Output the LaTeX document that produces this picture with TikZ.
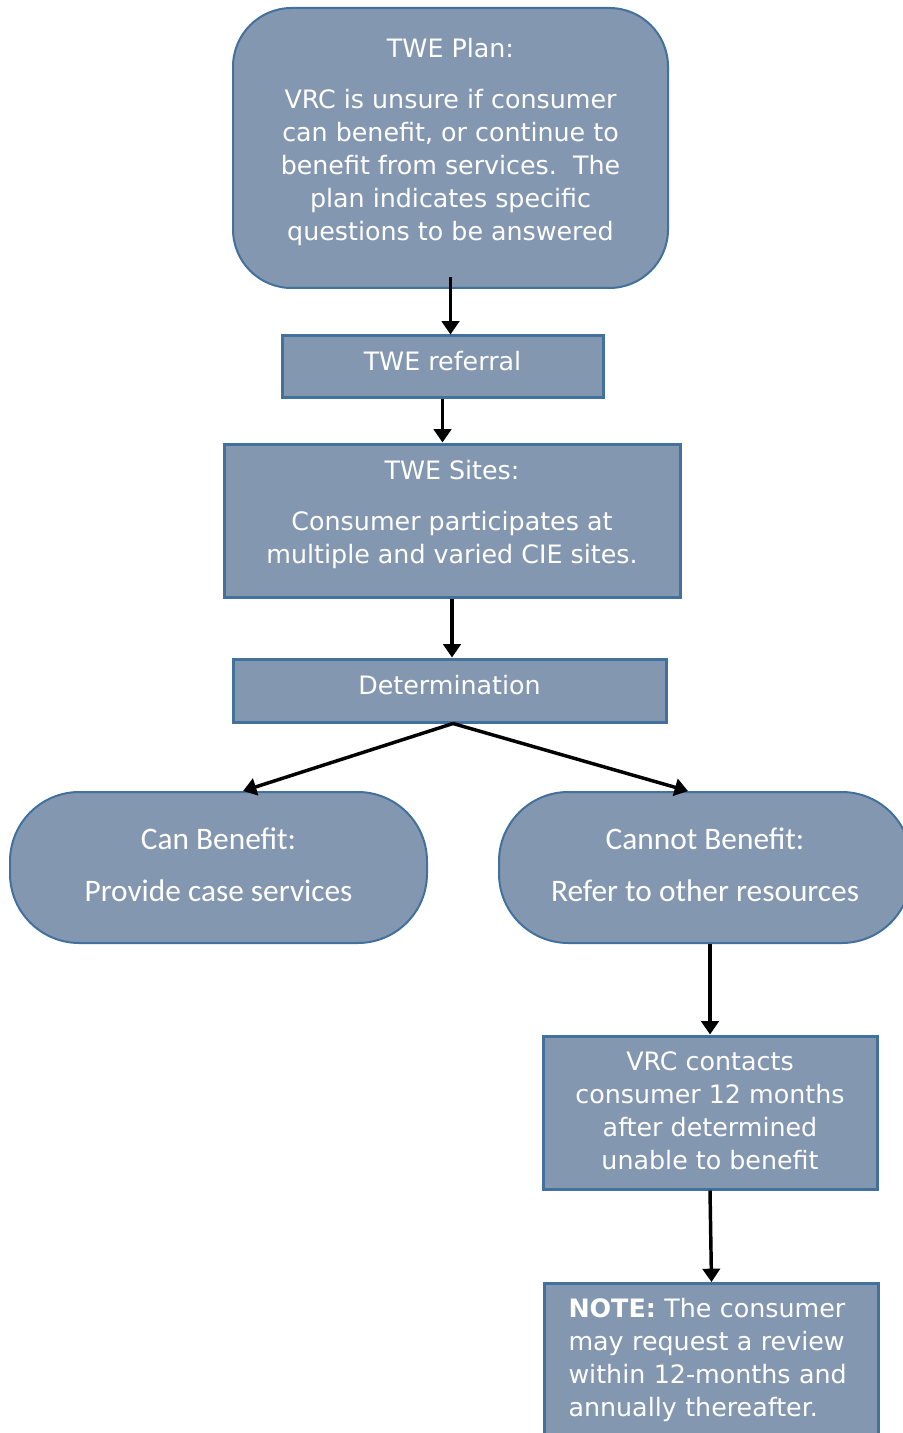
\documentclass[tikz,border=0pt]{standalone}
\usepackage{fontspec}
\setmainfont{DejaVu Sans}
\newfontfamily\calib{Carlito}
\usetikzlibrary{arrows.meta,calc}
\definecolor{boxfill}{HTML}{8497B0}
\definecolor{boxline}{HTML}{41719C}
\newcommand{\liftA}{\\[-12pt]\mbox{}}
\newcommand{\liftB}{\\[-17pt]\mbox{}}
\newcommand{\liftC}{\\[-34.5pt]\mbox{}}
\newcommand{\liftD}{\\[-21.5pt]\mbox{}}
\begin{document}
\begin{tikzpicture}[x=0.75pt,y=-0.75pt,
  box/.style={draw=boxline, fill=boxfill, line width=2.25pt, text=white,
    font=\fontsize{19}{24.75}\selectfont, align=center, inner sep=0pt},
  rbox/.style={box, line width=1.5pt},
  capbox/.style={rbox, font=\calib\fontsize{23.5}{39}\selectfont, rounded corners=52pt,
    minimum width=#1, minimum height=113.25pt},
  arr/.style={line width=2.6pt, -{Triangle[length=10pt,width=13pt]}}]
\useasboundingbox (0,0) rectangle (902,1433);

\node[rbox, rounded corners=44pt, minimum width=326.25pt, minimum height=210pt] (plan) at (450.5,148)
  {TWE Plan:\\[14pt]VRC is unsure if consumer\\can benefit, or continue to\\benefit from services.\ \ The\\plan indicates specific\\questions to be answered\liftA};
\node[box, minimum width=240.75pt, minimum height=45.75pt] (ref) at (442.5,366.5) {TWE referral\liftB};
\node[box, minimum width=342pt, minimum height=114.75pt] (sites) at (452,520.5)
  {TWE Sites:\\[14pt]Consumer participates at\\multiple and varied CIE sites.\liftA};
\node[box, minimum width=324.75pt, minimum height=47.25pt] (det) at (449.5,690.5) {Determination\liftB};
\node[capbox=312.75pt] (can) at (218.5,867.5) {Can Benefit:\\Provide case services\liftC};
\node[capbox=309pt] (cannot) at (705,867.5) {Cannot Benefit:\\Refer to other resources\liftC};
\node[box, minimum width=250.5pt, minimum height=114.75pt] (vrc) at (710,1112.5)
  {VRC contacts\\consumer 12 months\\after determined\\unable to benefit\liftD};
\node[box, anchor=north west, align=left, text width=214.5pt, inner xsep=18pt, inner ysep=11pt] (note) at (543,1282)
  {\textbf{NOTE:} The consumer\\may request a review\\within 12-months and\\annually thereafter.\\ \mbox{}};

\draw[arr] ($(plan.south)+(0,-12)$) -- (plan.south |- ref.north);
\draw[arr] (ref.south) -- (ref.south |- sites.north);
\draw[arr] (sites.south) -- (sites.south |- det.north);
\draw[arr] ($(det.south)+(3.5,0)$) -- ($(can.north)+(24.5,0)$);
\draw[arr] ($(det.south)+(3.5,0)$) -- ($(cannot.north)+(-17,0)$);
\draw[arr] (vrc.north |- cannot.south) -- (vrc.north);
\draw[arr] (vrc.south) -- (note.north);
\end{tikzpicture}
\end{document}
